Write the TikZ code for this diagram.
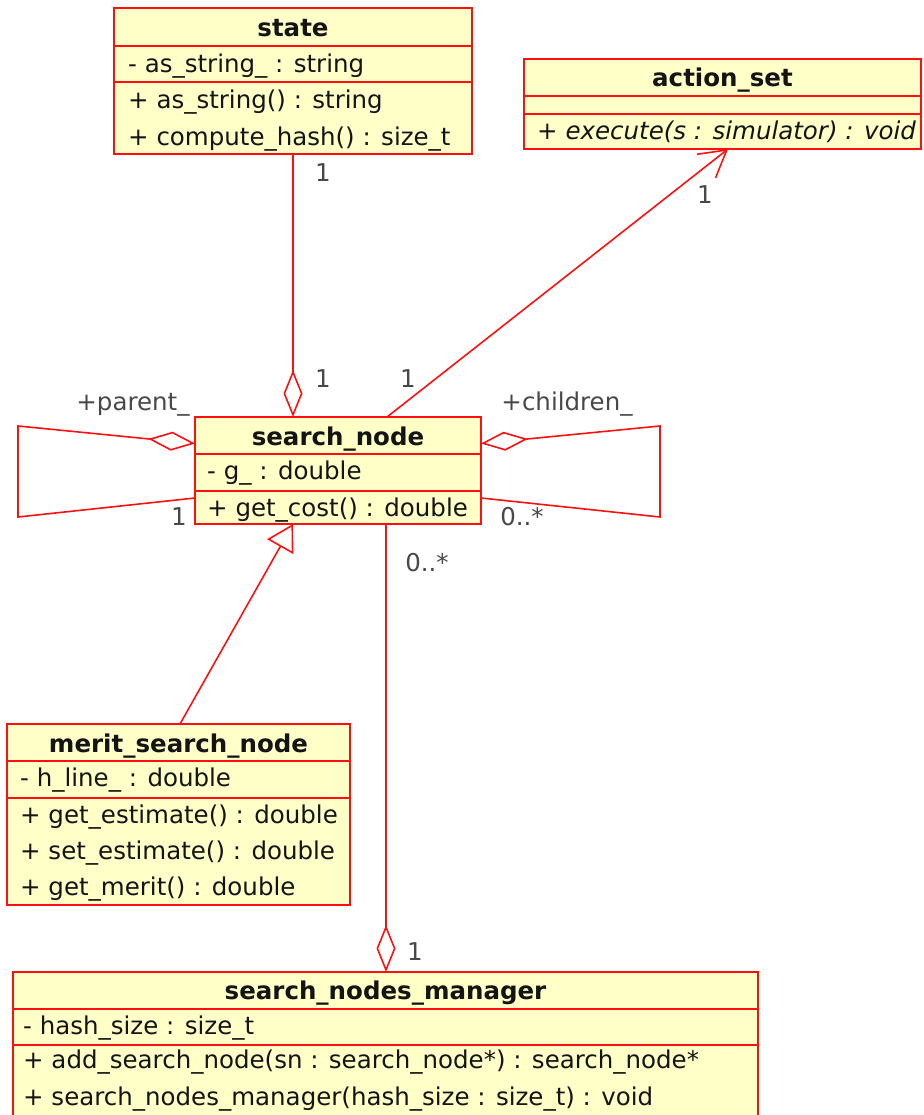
\documentclass[tikz,border=0pt]{standalone}
\usepackage{fontspec}
\setmainfont{DejaVu Sans}
\usetikzlibrary{arrows.meta}
\definecolor{umlred}{RGB}{255,16,16}
\definecolor{umlfill}{RGB}{255,255,200}
\definecolor{multgray}{RGB}{72,72,72}
\definecolor{textdark}{RGB}{20,20,20}

\begin{document}
\begin{tikzpicture}[x=1pt,y=-1pt,
  classbox/.style={draw=umlred, fill=umlfill, line width=1.6pt, inner sep=0pt, outer sep=0pt, anchor=north west},
  rowsep/.style={draw=umlred, line width=1.6pt},
  member/.style={anchor=base west, inner sep=0pt, text=textdark, font=\fontsize{24.5}{28}\selectfont},
  abstractop/.style={member, font=\fontsize{24.5}{28}\selectfont\itshape},
  classname/.style={anchor=base, inner sep=0pt, text=textdark, font=\fontsize{24.5}{28}\selectfont\bfseries},
  mult/.style={inner sep=0pt, text=multgray, font=\fontsize{24.5}{28}\selectfont},
  assoc/.style={draw=umlred, line width=1.6pt},
  aggregation/.style={assoc, {Diamond[open, length=47pt, width=19pt]}-},
  navigable/.style={assoc, -{Straight Barb[length=26pt, width=30pt]}},
  generalization/.style={assoc, -{Triangle[open, length=26pt, width=30pt]}}
]
\useasboundingbox (0,0) rectangle (923,1115);
\clip (0,0) rectangle (923,1115);

% ---------- class: state ----------
\node[classbox, minimum width=358pt, minimum height=146pt] (state) at (114,8) {};
\draw[rowsep] (114,46) -- (472,46);
\draw[rowsep] (114,82) -- (472,82);
\node[classname] (state-name) at (293,37) {state};
\node[member] (state-a1) at (128,73) {- as\_string\_ : string};
\node[member] (state-m1) at (128,109) {+ as\_string() : string};
\node[member] (state-m2) at (128,146) {+ compute\_hash() : size\_t};

% ---------- class: action_set ----------
\node[classbox, minimum width=397pt, minimum height=90pt] (aset) at (524,59) {};
\draw[rowsep] (524,96) -- (921,96);
\draw[rowsep] (524,114) -- (921,114);
\node[classname] (aset-name) at (722.5,87) {action\_set};
\node[abstractop] (aset-m1) at (537,140) {+ execute(s : simulator) : void};

% ---------- class: search_node ----------
\node[classbox, minimum width=286pt, minimum height=107pt] (sn) at (195,417) {};
\draw[rowsep] (195,454) -- (481,454);
\draw[rowsep] (195,491) -- (481,491);
\node[classname] (sn-name) at (338,445) {search\_node};
\node[member] (sn-a1) at (207,479) {- g\_ : double};
\node[member] (sn-m1) at (207,516) {+ get\_cost() : double};

% ---------- class: merit_search_node ----------
\node[classbox, minimum width=343pt, minimum height=181pt] (msn) at (7,724) {};
\draw[rowsep] (7,761) -- (350,761);
\draw[rowsep] (7,798) -- (350,798);
\node[classname] (msn-name) at (178.5,752) {merit\_search\_node};
\node[member] (msn-a1) at (20,786) {- h\_line\_ : double};
\node[member] (msn-m1) at (20,823) {+ get\_estimate() : double};
\node[member] (msn-m2) at (20,859) {+ set\_estimate() : double};
\node[member] (msn-m3) at (20,895) {+ get\_merit() : double};

% ---------- class: search_nodes_manager ----------
\node[classbox, minimum width=745pt, minimum height=170pt] (mgr) at (13,972) {};
\draw[rowsep] (13,1009) -- (758,1009);
\draw[rowsep] (13,1045) -- (758,1045);
\node[classname] (mgr-name) at (385.5,999) {search\_nodes\_manager};
\node[member] (mgr-a1) at (23,1034) {- hash\_size : size\_t};
\node[member] (mgr-m1) at (23,1068) {+ add\_search\_node(sn : search\_node*) : search\_node*};
\node[member] (mgr-m2) at (23,1105) {+ search\_nodes\_manager(hash\_size : size\_t) : void};

% ---------- relations ----------
% search_node aggregates a state
\draw[aggregation] (state.south |- sn.north) -- (state.south);
\node[mult] (m-state-top) at (323,173) {1};
\node[mult] (m-state-bot) at (323,379) {1};

% search_node uses an action_set
\draw[navigable] ([xshift=49pt]sn.north) -- ([xshift=5.5pt]aset.south);
\node[mult] (m-aset-bot) at (408,379) {1};
\node[mult] (m-aset-top) at (705,195) {1};

% parent_ self association
\coordinate (pl-top) at (18,426);
\coordinate (pl-bot) at (18,517);
\draw[aggregation] ([yshift=27pt]sn.west) -- (pl-top) -- (pl-bot) -- ([yshift=-27.5pt]sn.west);
\node[mult] (r-parent) at (133,405) {+parent\_};
\node[mult] (m-parent) at (179,517) {1};

% children_ self association
\coordinate (pr-top) at (660,426);
\coordinate (pr-bot) at (660,517);
\draw[aggregation] ([yshift=27pt]sn.east) -- (pr-top) -- (pr-bot) -- ([yshift=-27.5pt]sn.east);
\node[mult] (r-children) at (567,404) {+children\_};
\node[mult] (m-children) at (522,517) {0..*};

% merit_search_node specialises search_node
\draw[generalization] ([xshift=1.5pt]msn.north) -- (state.south |- sn.south);

% search_nodes_manager aggregates search nodes
\draw[aggregation] ([xshift=0.5pt]mgr.north) -- ([xshift=0.5pt]mgr.north |- sn.south);
\node[mult] (m-mgr-top) at (427,563) {0..*};
\node[mult] (m-mgr-bot) at (415,952) {1};
\end{tikzpicture}
\end{document}
